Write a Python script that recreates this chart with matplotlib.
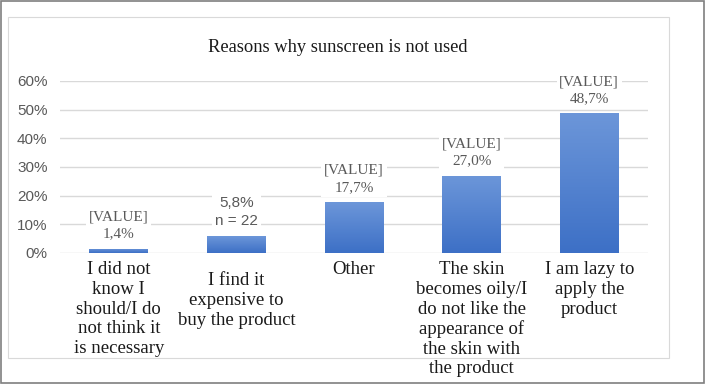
import numpy as np
import matplotlib.pyplot as plt
from matplotlib.patches import Rectangle
from matplotlib.colors import LinearSegmentedColormap
from matplotlib.transforms import ScaledTranslation

# Данные
categories = [
    'I did not\nknow I\nshould/I do\nnot think it\nis necessary',
    'I find it\nexpensive to\nbuy the product',
    'Other',
    'The skin\nbecomes oily/I\ndo not like the\nappearance of\nthe skin with\nthe product',
    'I am lazy to\napply the\nproduct',
]
values = [1.4, 5.8, 17.7, 27.0, 48.7]
value_labels = ['[VALUE]\n1,4%', '5,8%\nn = 22', '[VALUE]\n17,7%', '[VALUE]\n27,0%', '[VALUE]\n48,7%']
yticks = [0, 10, 20, 30, 40, 50, 60]

serif = 'Liberation Serif'
sans = 'Liberation Sans'

fig = plt.figure(figsize=(7.09, 3.84), dpi=100)
W, H = 709, 384

# Рамки
fig.patches.append(Rectangle((1 / W, 1 - 383 / H), 703 / W, 382 / H, transform=fig.transFigure,
                             fill=False, edgecolor='#7f7f7f', linewidth=1.2, zorder=0))
fig.patches.append(Rectangle((8 / W, 1 - 358 / H), 661 / W, 341 / H, transform=fig.transFigure,
                             fill=False, edgecolor='#d9d9d9', linewidth=0.8, zorder=0))

ax = fig.add_axes([60 / W, 1 - 253 / H, 588 / W, 172 / H])
ax.set_facecolor('none')

x = np.arange(len(values))
bars = ax.bar(x, values, width=0.5, color='#4a7fd0', zorder=2)

# Градиент на столбиках
cmap = LinearSegmentedColormap.from_list('blu', ['#3d70c6', '#6c96d9'])
grad = np.linspace(0, 1, 100).reshape(-1, 1)
for b in bars:
    x0, y0 = b.get_x(), b.get_y()
    im = ax.imshow(grad, cmap=cmap, origin='lower', aspect='auto',
                   extent=(x0, x0 + b.get_width(), y0, y0 + b.get_height()), zorder=2.5)
    im.set_clip_path(b)

ax.set_xlim(-0.5, len(values) - 0.5)
ax.set_ylim(0, 60)
ax.set_yticks(yticks)
ax.set_yticklabels([f'{t}%' for t in yticks], fontfamily=sans, fontsize=11, color='#595959')
ax.grid(axis='y', color='#d9d9d9', linewidth=1, zorder=0)
for s in ax.spines.values():
    s.set_visible(False)
ax.tick_params(axis='both', length=0)
ax.tick_params(axis='y', pad=9)

ax.set_xticks(x)
ax.set_xticklabels(categories, fontfamily=serif, fontsize=13.5, color='#1a1a1a', linespacing=1.2)
for lbl in ax.get_xticklabels():
    lbl.set_bbox(dict(facecolor='white', edgecolor='none', pad=1))
ax.tick_params(axis='x', pad=6)
# вторая подпись в оригинале чуть ниже
lbl2 = ax.get_xticklabels()[1]
lbl2.set_transform(lbl2.get_transform() + ScaledTranslation(0, -8 / 72, fig.dpi_scale_trans))

# Подписи значений
for i, (v, t) in enumerate(zip(values, value_labels)):
    fam = sans if i == 1 else serif
    ax.annotate(t, (x[i], v), xytext=(0, 6), textcoords='offset points',
                ha='center', va='bottom', fontfamily=fam, fontsize=11, color='#595959',
                linespacing=1.4, zorder=4,
                bbox=dict(facecolor='white', edgecolor='none', pad=2))

fig.text(338 / W, 1 - 47 / H, 'Reasons why sunscreen is not used', ha='center', va='center',
         fontfamily=serif, fontsize=13.3, color='#1a1a1a')

fig.savefig('out.png', dpi=100)
